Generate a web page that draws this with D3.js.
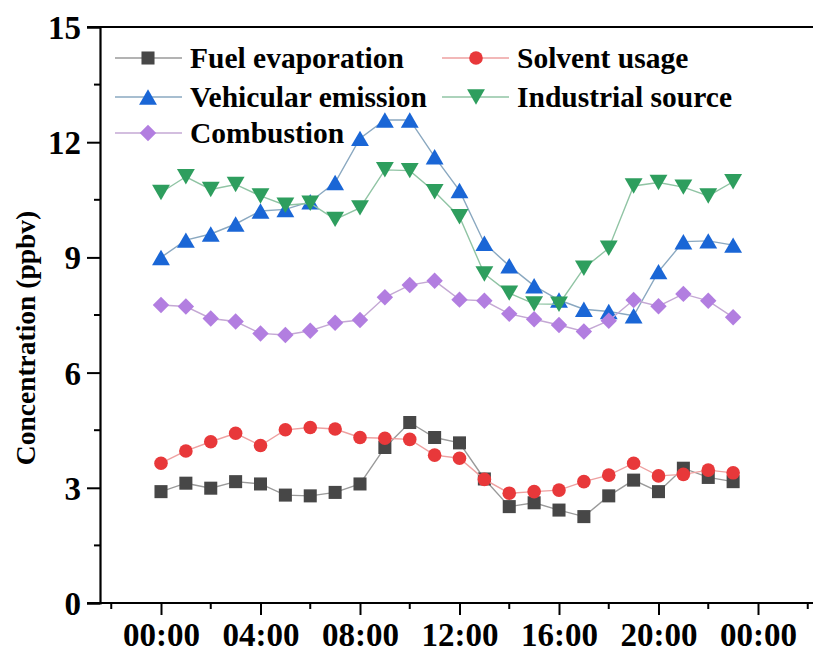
<!DOCTYPE html>
<html>
<head>
<meta charset="utf-8">
<script src="https://cdn.jsdelivr.net/npm/d3@7"></script>
<style>
  html, body { margin: 0; padding: 0; background: #fff; }
  svg { display: block; }
  text { font-family: "Liberation Serif", "Times New Roman", serif; font-weight: bold; fill: #000; }
</style>
</head>
<body>
<svg id="chart" width="813" height="657"></svg>
<script>
// ---- data ----
const hours = [0,1,2,3,4,5,6,7,8,9,10,11,12,13,14,15,16,17,18,19,20,21,22,23];
const fuelEvaporation   = [2.90,3.12,2.99,3.16,3.10,2.81,2.79,2.88,3.10,4.05,4.70,4.31,4.17,3.23,2.51,2.61,2.42,2.25,2.79,3.20,2.90,3.51,3.27,3.16];
const solventUsage      = [3.64,3.96,4.20,4.42,4.10,4.51,4.57,4.53,4.31,4.29,4.26,3.85,3.77,3.22,2.86,2.90,2.94,3.16,3.33,3.64,3.31,3.35,3.46,3.39];
const vehicularEmission = [9.00,9.45,9.61,9.87,10.21,10.25,10.45,10.95,12.10,12.58,12.58,11.62,10.74,9.37,8.78,8.26,7.89,7.65,7.59,7.48,8.63,9.41,9.43,9.32];
const industrialSource  = [10.69,11.10,10.77,10.90,10.60,10.36,10.41,9.99,10.29,11.28,11.26,10.71,10.06,8.57,8.07,7.79,7.78,8.72,9.24,10.86,10.95,10.83,10.60,10.97];
const combustion        = [7.76,7.72,7.41,7.33,7.02,6.98,7.09,7.30,7.37,7.96,8.28,8.39,7.90,7.87,7.53,7.39,7.24,7.07,7.35,7.89,7.73,8.05,7.87,7.44];
const seriesNames = ["Fuel evaporation","Solvent usage","Vehicular emission","Industrial source","Combustion"];
const yTicks = [0,3,6,9,12,15];
const xMajorTicks = [0,4,8,12,16,20,24];
const yLabel = "Concentration (ppbv)";

// ---- styles ----
const styles = [
  {marker:"square",  fill:"#474747", line:"#9a9a9a"},
  {marker:"circle",  fill:"#e8383a", line:"#eea0a0"},
  {marker:"up",      fill:"#1a66d6", line:"#8aa8c0"},
  {marker:"down",    fill:"#2e9e5e", line:"#90c4a4"},
  {marker:"diamond", fill:"#b27ee0", line:"#c4a8d4"}
];
const seriesData = [fuelEvaporation, solventUsage, vehicularEmission, industrialSource, combustion];

const svg = d3.select("#chart");
const x = d3.scaleLinear().domain([0,24]).range([161,758]);
const y = d3.scaleLinear().domain([0,15]).range([603,27]);
const axisLeftX = 100;

// custom symbols
const triUp = { draw(ctx, size){ const w=Math.sqrt(4*size/Math.sqrt(3)), h=w*Math.sqrt(3)/2; ctx.moveTo(0,-h/2); ctx.lineTo(w/2,h/2); ctx.lineTo(-w/2,h/2); ctx.closePath(); } };
const triDown = { draw(ctx, size){ const w=Math.sqrt(4*size/Math.sqrt(3)), h=w*Math.sqrt(3)/2; ctx.moveTo(0,h/2); ctx.lineTo(w/2,-h/2); ctx.lineTo(-w/2,-h/2); ctx.closePath(); } };
const diamond = { draw(ctx, size){ const r=Math.sqrt(size/2); ctx.moveTo(0,-r); ctx.lineTo(r,0); ctx.lineTo(0,r); ctx.lineTo(-r,0); ctx.closePath(); } };
function symbolFor(m){
  if(m==="square") return d3.symbol().type(d3.symbolSquare).size(170)();
  if(m==="circle") return d3.symbol().type(d3.symbolCircle).size(145)();
  if(m==="up") return d3.symbol().type(triUp).size(138)();
  if(m==="down") return d3.symbol().type(triDown).size(138)();
  return d3.symbol().type(diamond).size(135)();
}

// ---- axes ----
// frame top line
svg.append("line").attr("x1",axisLeftX-13).attr("x2",813).attr("y1",y(15)).attr("y2",y(15))
  .attr("stroke","#000").attr("stroke-width",2.2);

// y axis
const yAxis = d3.axisLeft(y).tickValues(yTicks).tickSize(13).tickPadding(6).tickFormat(d3.format("d"));
const gy = svg.append("g").attr("transform",`translate(${axisLeftX},0)`).call(yAxis);
gy.select(".domain").attr("stroke","#000").attr("stroke-width",2.2);
gy.selectAll(".tick line").attr("stroke","#000").attr("stroke-width",2);
gy.selectAll(".tick text").style("font-size","33px").style("font-family","Liberation Serif").style("font-weight","bold").attr("dy","0.35em");
const yMinor = d3.range(1.5,15,3);
svg.append("g").selectAll("line").data(yMinor).join("line")
  .attr("x1",axisLeftX-6).attr("x2",axisLeftX).attr("y1",d=>y(d)).attr("y2",d=>y(d))
  .attr("stroke","#000").attr("stroke-width",2);

// x axis
const xAxis = d3.axisBottom(x).tickValues(xMajorTicks).tickSize(12).tickPadding(8)
  .tickFormat(d => String(d%24).padStart(2,"0")+":00");
const gx = svg.append("g").attr("transform",`translate(0,${y(0)})`).call(xAxis);
gx.select(".domain").remove();
gx.append("line").attr("x1",axisLeftX-13).attr("x2",813).attr("y1",0).attr("y2",0).attr("stroke","#000").attr("stroke-width",2.2);
gx.selectAll(".tick line").attr("stroke","#000").attr("stroke-width",2);
gx.selectAll(".tick text").style("font-size","33px").style("font-family","Liberation Serif").style("font-weight","bold");
const xMinor = [-2,2,6,10,14,18,22,26];
svg.append("g").selectAll("line").data(xMinor).join("line")
  .attr("x1",d=>x(d)).attr("x2",d=>x(d)).attr("y1",y(0)).attr("y2",y(0)+6)
  .attr("stroke","#000").attr("stroke-width",2);

// y label
svg.append("text").attr("transform",`translate(25,338) rotate(-90)`)
  .attr("text-anchor","middle").attr("dy","0.35em").style("font-size","27.5px").text(yLabel);

// ---- series ----
const line = d3.line().x((d,i)=>x(hours[i])).y(d=>y(d));
seriesData.forEach((vals, si) => {
  const st = styles[si];
  const g = svg.append("g");
  g.append("path").datum(vals).attr("d",line).attr("fill","none").attr("stroke",st.line).attr("stroke-width",1.4);
  g.selectAll("path.m").data(vals).join("path").attr("class","m")
    .attr("d",symbolFor(st.marker))
    .attr("transform",(d,i)=>`translate(${x(hours[i])},${y(d)})`)
    .attr("fill",st.fill);
});

// ---- legend ----
const legendPos = [
  {lx:115, mx:148, tx:190, y:58},
  {lx:442, mx:476, tx:517, y:58},
  {lx:115, mx:148, tx:190, y:97},
  {lx:442, mx:476, tx:517, y:97},
  {lx:115, mx:148, tx:190, y:133}
];
seriesNames.forEach((name, si) => {
  const p = legendPos[si], st = styles[si];
  const g = svg.append("g");
  g.append("line").attr("x1",p.lx).attr("x2",p.lx+67).attr("y1",p.y).attr("y2",p.y).attr("stroke",st.line).attr("stroke-width",1.4);
  g.append("path").attr("d",symbolFor(st.marker)).attr("transform",`translate(${p.mx},${p.y})`).attr("fill",st.fill);
  g.append("text").attr("x",p.tx).attr("y",p.y).attr("dy","0.35em").style("font-size","29.5px").text(name);
});
</script>
</body>
</html>
